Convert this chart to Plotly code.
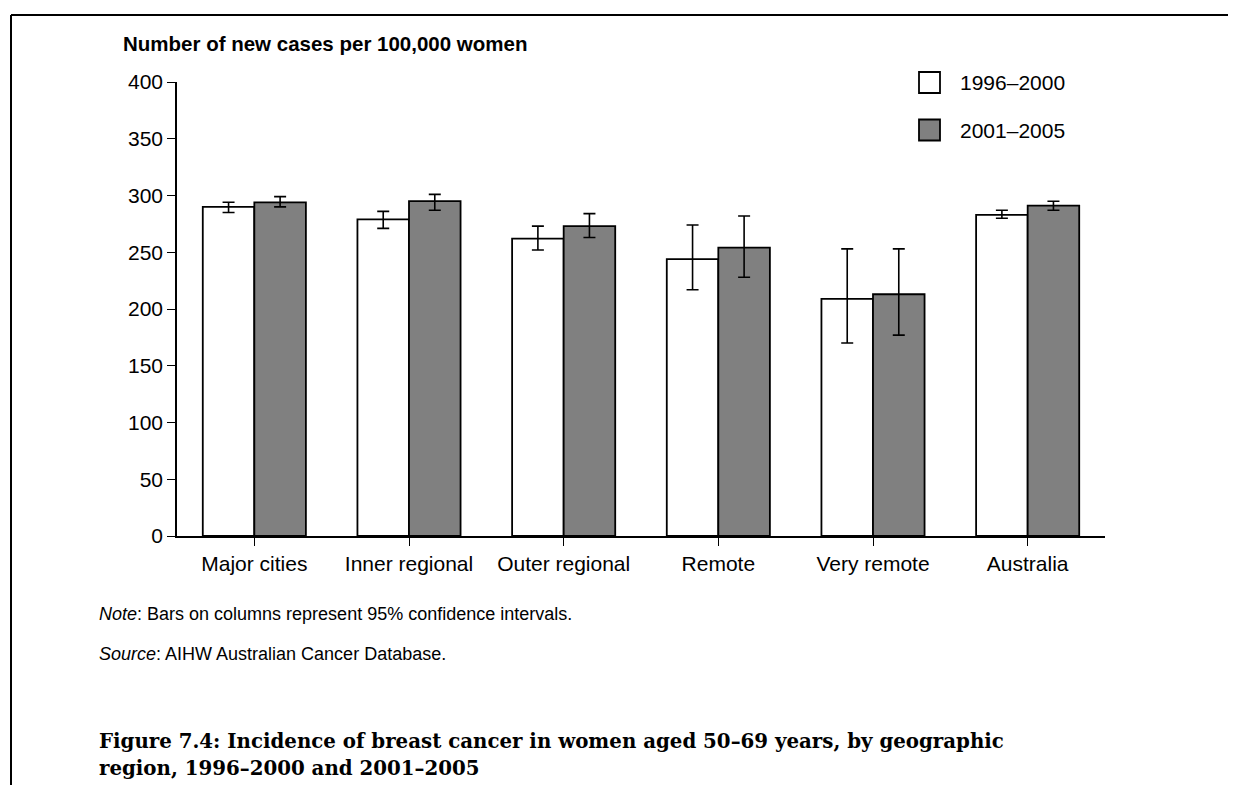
import plotly.graph_objects as go

# ---- data ----
regions = ["Major cities", "Inner regional", "Outer regional", "Remote", "Very remote", "Australia"]
series_names = ["1996–2000", "2001–2005"]
rate_1996_2000 = [290, 279, 262, 244, 209, 283]
lower_1996_2000 = [285, 271, 252, 217, 170, 280]
upper_1996_2000 = [294, 286, 273, 274, 253, 287]
rate_2001_2005 = [294, 295, 273, 254, 213, 291]
lower_2001_2005 = [290, 287, 263, 228, 177, 287]
upper_2001_2005 = [299, 301, 284, 282, 253, 295]
y_ticks = [0, 50, 100, 150, 200, 250, 300, 350, 400]

OFF = 8  # page body margin
W, H = 1236 - OFF, 785 - OFF
# plot area in screen pixels
SL, SR, ST, SB = 177, 1105, 82, 536
L, R, T, B = SL - OFF, SR - OFF, ST - OFF, SB - OFF


def px(x):
    """screen x pixel -> paper coordinate"""
    return (x - SL) / (SR - SL)


def py(y):
    """screen y pixel -> paper coordinate"""
    return (SB - y) / (SB - ST)


FONT = "Arial, Liberation Sans, Helvetica, sans-serif"
SERIF = "Palatino Linotype, Book Antiqua, DejaVu Serif, serif"
fills = ["#ffffff", "#808080"]
series = [
    (rate_1996_2000, lower_1996_2000, upper_1996_2000),
    (rate_2001_2005, lower_2001_2005, upper_2001_2005),
]

fig = go.Figure()
for name, fill, (rate, lo, hi) in zip(series_names, fills, series):
    fig.add_trace(go.Bar(
        x=regions, y=rate, name=name, showlegend=False,
        marker=dict(color=fill, line=dict(color="black", width=1.8)),
        error_y=dict(type="data", symmetric=False,
                     array=[h - r for h, r in zip(hi, rate)],
                     arrayminus=[r - l for r, l in zip(rate, lo)],
                     color="black", thickness=1.6, width=6),
    ))

shapes = []
annotations = []
# legend (custom, larger swatches)
for i, (name, fill) in enumerate(zip(series_names, fills)):
    yc = 82.5 + i * 47.5
    shapes.append(dict(type="rect", xref="paper", yref="paper",
                       x0=px(919), x1=px(940), y0=py(yc - 10.5), y1=py(yc + 10.5),
                       fillcolor=fill, line=dict(color="black", width=1.8)))
    annotations.append(dict(xref="paper", yref="paper", x=px(958), y=py(yc),
                            xanchor="left", yanchor="middle", showarrow=False,
                            text=name, font=dict(size=21, color="black", family=FONT)))

# frame lines
shapes.append(dict(type="line", xref="paper", yref="paper", x0=px(11), x1=px(1245),
                   y0=py(15), y1=py(15), line=dict(color="black", width=2)))
shapes.append(dict(type="line", xref="paper", yref="paper", x0=px(11), x1=px(11),
                   y0=py(15), y1=py(795), line=dict(color="black", width=2)))

# axis title
annotations.append(dict(xref="paper", yref="paper", x=px(121), y=py(43),
                        xanchor="left", yanchor="middle", showarrow=False,
                        text="<b>Number of new cases per 100,000 women</b>",
                        font=dict(size=20.5, color="black", family=FONT)))
# notes
annotations.append(dict(xref="paper", yref="paper", x=px(97), y=py(614),
                        xanchor="left", yanchor="middle", showarrow=False,
                        text="<i>Note</i>: Bars on columns represent 95% confidence intervals.",
                        font=dict(size=18, color="black", family=FONT)))
annotations.append(dict(xref="paper", yref="paper", x=px(97), y=py(654),
                        xanchor="left", yanchor="middle", showarrow=False,
                        text="<i>Source</i>: AIHW Australian Cancer Database.",
                        font=dict(size=18, color="black", family=FONT)))
caption_lines = ["Figure 7.4: Incidence of breast cancer in women aged 50–69 years, by geographic",
                 "region, 1996–2000 and 2001–2005"]
for i, line in enumerate(caption_lines):
    annotations.append(dict(xref="paper", yref="paper", x=px(97), y=py(741 + i * 27),
                            xanchor="left", yanchor="middle", showarrow=False,
                            text="<b>" + line + "</b>",
                            font=dict(size=19.8, color="black", family=SERIF)))

fig.update_layout(
    width=W, height=H,
    margin=dict(l=L, r=W - R, t=T, b=H - B, pad=0),
    paper_bgcolor="white", plot_bgcolor="white",
    barmode="group", bargap=1 / 3, bargroupgap=0,
    font=dict(family=FONT, size=21, color="black"),
    shapes=shapes, annotations=annotations,
    showlegend=False,
)
fig.update_xaxes(showline=True, linecolor="black", linewidth=1.5,
                 ticks="outside", ticklen=8, tickwidth=1.2, tickcolor="black",
                 showgrid=False, tickfont=dict(size=21, family=FONT))
fig.update_yaxes(range=[0, 400], tickvals=y_ticks, showline=True, linecolor="black",
                 linewidth=1.5, ticks="outside", ticklen=8, tickwidth=1.2, tickcolor="black",
                 showgrid=False, zeroline=False, tickfont=dict(size=21, family=FONT))

fig.write_html("out.html")
